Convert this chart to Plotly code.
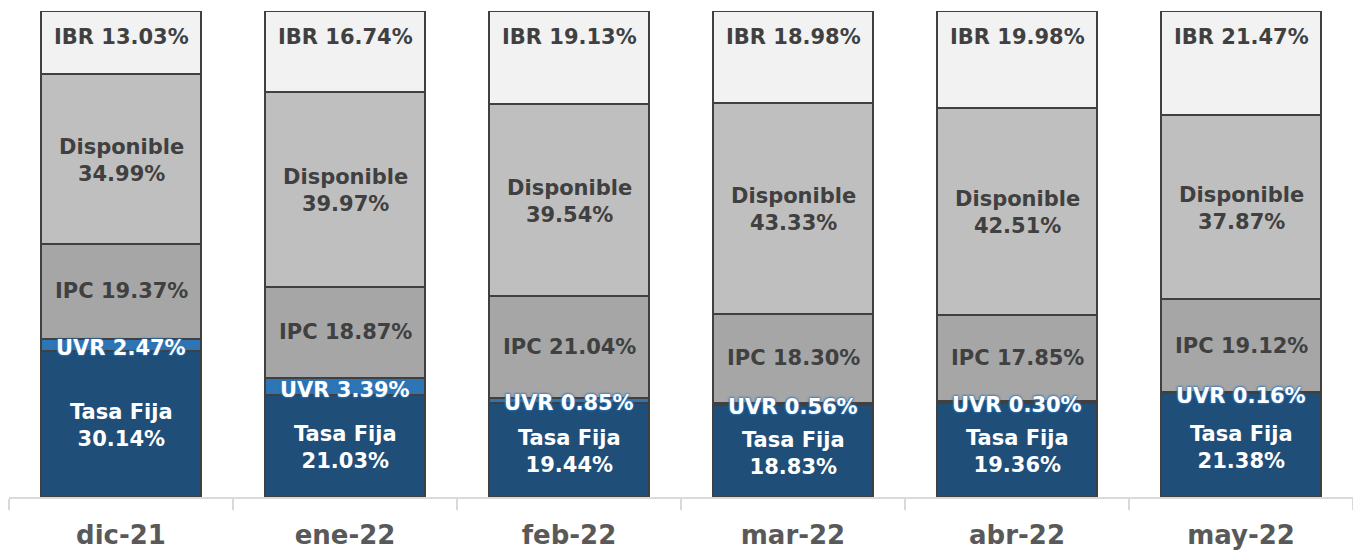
import plotly.graph_objects as go

categories = ["dic-21", "ene-22", "feb-22", "mar-22", "abr-22", "may-22"]
tasa_fija = [30.14, 21.03, 19.44, 18.83, 19.36, 21.38]
uvr = [2.47, 3.39, 0.85, 0.56, 0.30, 0.16]
ipc = [19.37, 18.87, 21.04, 18.30, 17.85, 19.12]
disponible = [34.99, 39.97, 39.54, 43.33, 42.51, 37.87]
ibr = [13.03, 16.74, 19.13, 18.98, 19.98, 21.47]

series = [
    ("Tasa Fija", tasa_fija, "#1F4E79"),
    ("UVR", uvr, "#2E75B6"),
    ("IPC", ipc, "#A6A6A6"),
    ("Disponible", disponible, "#BFBFBF"),
    ("IBR", ibr, "#F2F2F2"),
]

FONT = "DejaVu Sans, Verdana, sans-serif"
LSIZE = 21

fig = go.Figure()
for name, vals, color in series:
    fig.add_trace(go.Bar(
        x=categories, y=vals, name=name,
        marker=dict(color=color, line=dict(color="#404040", width=2)),
        width=0.715, hoverinfo="skip",
    ))

annotations = []
for i, cat in enumerate(categories):
    base = 0.0
    for name, vals, color in series:
        v = vals[i]
        mid = base + v / 2
        label_val = f"{v:.2f}%"
        if name == "Tasa Fija":
            annotations.append(dict(x=cat, y=mid, yshift=-2, text=f"Tasa Fija<br>{label_val}",
                                    font=dict(color="white", size=LSIZE, family=FONT, weight=700)))
        elif name == "UVR":
            annotations.append(dict(x=cat, y=mid, yshift=-3, text=f"UVR {label_val}",
                                    font=dict(color="white", size=LSIZE, family=FONT, weight=700,
                                              shadow="0 0 2px #2E75B6, 0 0 2px #2E75B6, 0 0 3px #2E75B6")))
        elif name == "IPC":
            annotations.append(dict(x=cat, y=mid, text=f"IPC {label_val}",
                                    font=dict(color="#404040", size=LSIZE, family=FONT, weight=700)))
        elif name == "Disponible":
            annotations.append(dict(x=cat, y=mid, yshift=-1, text=f"Disponible<br>{label_val}",
                                    font=dict(color="#404040", size=LSIZE, family=FONT, weight=700)))
        else:
            top = min(round(base + v, 6), 99.999)
            annotations.append(dict(x=cat, y=top, yshift=-26, text=f"IBR {label_val}",
                                    font=dict(color="#404040", size=LSIZE, family=FONT, weight=700)))
        base += v

for a in annotations:
    a.update(showarrow=False, xref="x", yref="y", yanchor="middle", xanchor="center")

fig.update_layout(
    barmode="stack",
    width=1353, height=552,
    margin=dict(l=9, r=0, t=11, b=55),
    paper_bgcolor="white", plot_bgcolor="white",
    showlegend=False,
    annotations=annotations,
    xaxis=dict(
        type="category", tickson="boundaries", ticks="outside", ticklen=11,
        tickcolor="#D9D9D9", tickwidth=2, showline=True, linecolor="#D9D9D9", linewidth=2,
        tickfont=dict(family=FONT, size=26, color="#595959", weight=700),
        ticklabelstandoff=14, automargin=False,
        showgrid=False, zeroline=False,
    ),
    yaxis=dict(range=[0, 100], visible=False, showgrid=False, zeroline=False),
)

fig.write_html("out.html", config={"displayModeBar": False},
               post_script="document.body.style.margin='0';")
